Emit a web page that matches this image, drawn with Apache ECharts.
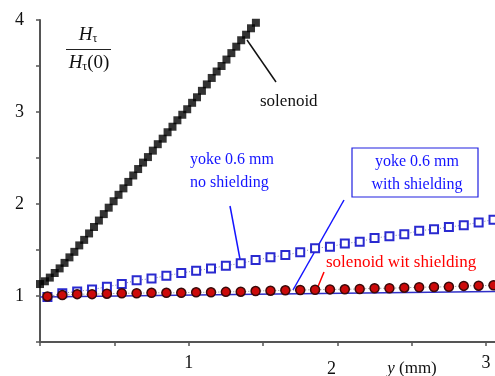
<!DOCTYPE html>
<html>
<head>
<meta charset="utf-8">
<script src="https://cdn.jsdelivr.net/npm/echarts@6/dist/echarts.min.js"></script>
<style>
html, body { margin: 0; padding: 0; background: #fff; }
#chart { width: 495px; height: 376px; }
</style>
</head>
<body>
<div id="chart"></div>
<script>
// solenoid (no shielding), dense black squares
var solenoidX = [0, 0.033, 0.066, 0.099, 0.132, 0.165, 0.198, 0.231, 0.264, 0.297, 0.33, 0.363, 0.396, 0.429, 0.462,
  0.495, 0.528, 0.561, 0.594, 0.627, 0.66, 0.693, 0.726, 0.759, 0.792, 0.825, 0.858, 0.891, 0.924, 0.957,
  0.99, 1.023, 1.056, 1.089, 1.122, 1.155, 1.188, 1.221, 1.254, 1.287, 1.32, 1.353, 1.386, 1.419, 1.452];
var solenoidY = [1.13, 1.16, 1.20, 1.25, 1.30, 1.36, 1.42, 1.48, 1.55, 1.61, 1.68, 1.75, 1.82, 1.89, 1.96,
  2.03, 2.10, 2.17, 2.24, 2.31, 2.38, 2.45, 2.51, 2.58, 2.65, 2.71, 2.78, 2.84, 2.91, 2.97,
  3.03, 3.10, 3.16, 3.23, 3.30, 3.37, 3.44, 3.50, 3.57, 3.64, 3.71, 3.78, 3.84, 3.91, 3.97];

// positions shared by the two sparser series
var posX = [0.05, 0.15, 0.25, 0.35, 0.45, 0.55, 0.65, 0.75, 0.85, 0.95, 1.05, 1.15, 1.25, 1.35, 1.45, 1.55,
  1.65, 1.75, 1.85, 1.95, 2.05, 2.15, 2.25, 2.35, 2.45, 2.55, 2.65, 2.75, 2.85, 2.95, 3.05];
var yokeNoShield = [0.99, 1.03, 1.05, 1.07, 1.10, 1.13, 1.17, 1.19, 1.22, 1.25, 1.275, 1.30, 1.33, 1.355, 1.39, 1.42,
  1.445, 1.475, 1.52, 1.535, 1.57, 1.59, 1.63, 1.65, 1.67, 1.71, 1.725, 1.75, 1.77, 1.80, 1.83];
var solenoidShield = [0.995, 1.01, 1.02, 1.02, 1.025, 1.03, 1.03, 1.035, 1.035, 1.035, 1.04, 1.04, 1.045, 1.047, 1.054, 1.058,
  1.062, 1.065, 1.068, 1.072, 1.073, 1.076, 1.084, 1.084, 1.09, 1.095, 1.098, 1.10, 1.11, 1.112, 1.116];

// yoke 0.6 mm with shielding (solid line)
var yokeShieldX = [0, 1.45, 3.06];
var yokeShieldY = [0.99, 1.02, 1.05];

var xTicks = [1, 2, 3];
var yTicks = [1, 2, 3, 4];

function pairs(xs, ys) {
  return xs.map(function (x, i) { return [x, ys[i]]; });
}

var serif = 'Liberation Serif';
var chart = echarts.init(document.getElementById('chart'));
chart.setOption({
  animation: false,
  grid: { left: 40, right: 0, top: 20, bottom: 34, outerBoundsMode: 'none', containLabel: false },
  xAxis: {
    type: 'value', min: 0, max: 3.06, interval: 0.5,
    splitLine: { show: false },
    axisLine: { lineStyle: { color: '#555', width: 2 } },
    axisTick: { length: 4, lineStyle: { color: '#555', width: 1.5 } },
    axisLabel: {
      margin: 12, color: '#111', fontFamily: serif, fontSize: 18,
      showMaxLabel: false,
      formatter: function (v) {
        if (xTicks.indexOf(v) < 0) return '';
        return v === 2 ? '{b|2}' : '{a|' + v + '}';
      },
      rich: {
        a: { fontFamily: serif, fontSize: 18, color: '#111' },
        b: { fontFamily: serif, fontSize: 18, color: '#111', padding: [6, 12, 0, 0] }
      }
    }
  },
  yAxis: {
    type: 'value', min: 0.5, max: 4, interval: 0.5,
    splitLine: { show: false },
    axisLine: { show: true, lineStyle: { color: '#555', width: 2 } },
    axisTick: { show: true, length: 4, lineStyle: { color: '#555', width: 1.5 } },
    axisLabel: {
      margin: 16, color: '#111', fontFamily: serif, fontSize: 18,
      formatter: function (v) { return yTicks.indexOf(v) >= 0 ? String(v) : ''; }
    }
  },
  series: [
    {
      type: 'line', data: pairs(yokeShieldX, yokeShieldY), showSymbol: false, symbol: 'none',
      lineStyle: { color: '#3030c8', width: 1.5 }, z: 2
    },
    {
      type: 'line', data: pairs(posX, yokeNoShield), symbol: 'emptyRect', symbolSize: 8,
      showAllSymbol: true,
      itemStyle: { color: '#2a2ad0', borderColor: '#2a2ad0', borderWidth: 1.8 },
      lineStyle: { color: '#7777aa', width: 1, type: [1, 2] }, z: 3
    },
    {
      type: 'line', data: pairs(posX, solenoidShield), symbol: 'circle', symbolSize: 9,
      showAllSymbol: true,
      itemStyle: { color: '#cc0a0a', borderColor: '#3a0a0a', borderWidth: 1.5 },
      lineStyle: { color: '#888', width: 1, type: [1, 2] }, z: 4
    },
    {
      type: 'scatter', data: pairs(solenoidX, solenoidY), symbol: 'rect', symbolSize: 8,
      itemStyle: { color: '#000' }, z: 5
    }
  ],
  graphic: [
    // y label fraction
    { type: 'text', x: 88, y: 35, style: { text: '{i|H}{s|τ}', align: 'center', verticalAlign: 'middle',
      rich: { i: { fontFamily: serif, fontStyle: 'italic', fontSize: 19, fill: '#111' }, s: { fontFamily: serif, fontSize: 12, fill: '#111', padding: [8, 0, 0, 0] } } } },
    { type: 'line', shape: { x1: 66, y1: 49.5, x2: 111, y2: 49.5 }, style: { stroke: '#222', lineWidth: 1.2 } },
    { type: 'text', x: 89, y: 63, style: { text: '{i|H}{s|τ}{n|(0)}', align: 'center', verticalAlign: 'middle',
      rich: { i: { fontFamily: serif, fontStyle: 'italic', fontSize: 19, fill: '#111' }, s: { fontFamily: serif, fontSize: 12, fill: '#111', padding: [8, 0, 0, 0] }, n: { fontFamily: serif, fontSize: 19, fill: '#111' } } } },
    // solenoid label
    { type: 'line', shape: { x1: 247, y1: 40, x2: 276, y2: 82 }, style: { stroke: '#111', lineWidth: 1.5 } },
    { type: 'text', x: 260, y: 102, style: { text: 'solenoid', fontFamily: serif, fontSize: 17, fill: '#111', verticalAlign: 'middle' } },
    // yoke no shielding
    { type: 'text', x: 190, y: 160, style: { text: 'yoke 0.6 mm', fontFamily: serif, fontSize: 16, fill: '#1414ff', verticalAlign: 'middle' } },
    { type: 'text', x: 190, y: 183, style: { text: 'no shielding', fontFamily: serif, fontSize: 16, fill: '#1414ff', verticalAlign: 'middle' } },
    { type: 'line', shape: { x1: 230, y1: 206, x2: 240, y2: 259 }, style: { stroke: '#1414ff', lineWidth: 1.5 } },
    // yoke with shielding box
    { type: 'rect', shape: { x: 352, y: 148, width: 126, height: 49 }, style: { fill: '#fff', stroke: '#2020e0', lineWidth: 1.2 } },
    { type: 'text', x: 417, y: 162, style: { text: 'yoke 0.6 mm', fontFamily: serif, fontSize: 16, fill: '#1414ff', align: 'center', verticalAlign: 'middle' } },
    { type: 'text', x: 417, y: 185, style: { text: 'with shielding', fontFamily: serif, fontSize: 16, fill: '#1414ff', align: 'center', verticalAlign: 'middle' } },
    { type: 'line', shape: { x1: 344, y1: 200, x2: 293, y2: 290 }, style: { stroke: '#1414ff', lineWidth: 1.5 } },
    // solenoid with shielding
    { type: 'text', x: 326, y: 263, style: { text: 'solenoid wit shielding', fontFamily: serif, fontSize: 17, fill: '#ff0000', verticalAlign: 'middle' } },
    { type: 'line', shape: { x1: 324, y1: 272, x2: 317, y2: 289 }, style: { stroke: '#ff0000', lineWidth: 1.5 } },
    // x axis name
    { type: 'text', x: 412, y: 369, style: { text: '{i|y} (mm)', align: 'center', verticalAlign: 'middle',
      rich: { i: { fontFamily: serif, fontStyle: 'italic', fontSize: 17, fill: '#111' } }, fontFamily: serif, fontSize: 17, fill: '#111' } }
  ]
});
</script>
</body>
</html>
